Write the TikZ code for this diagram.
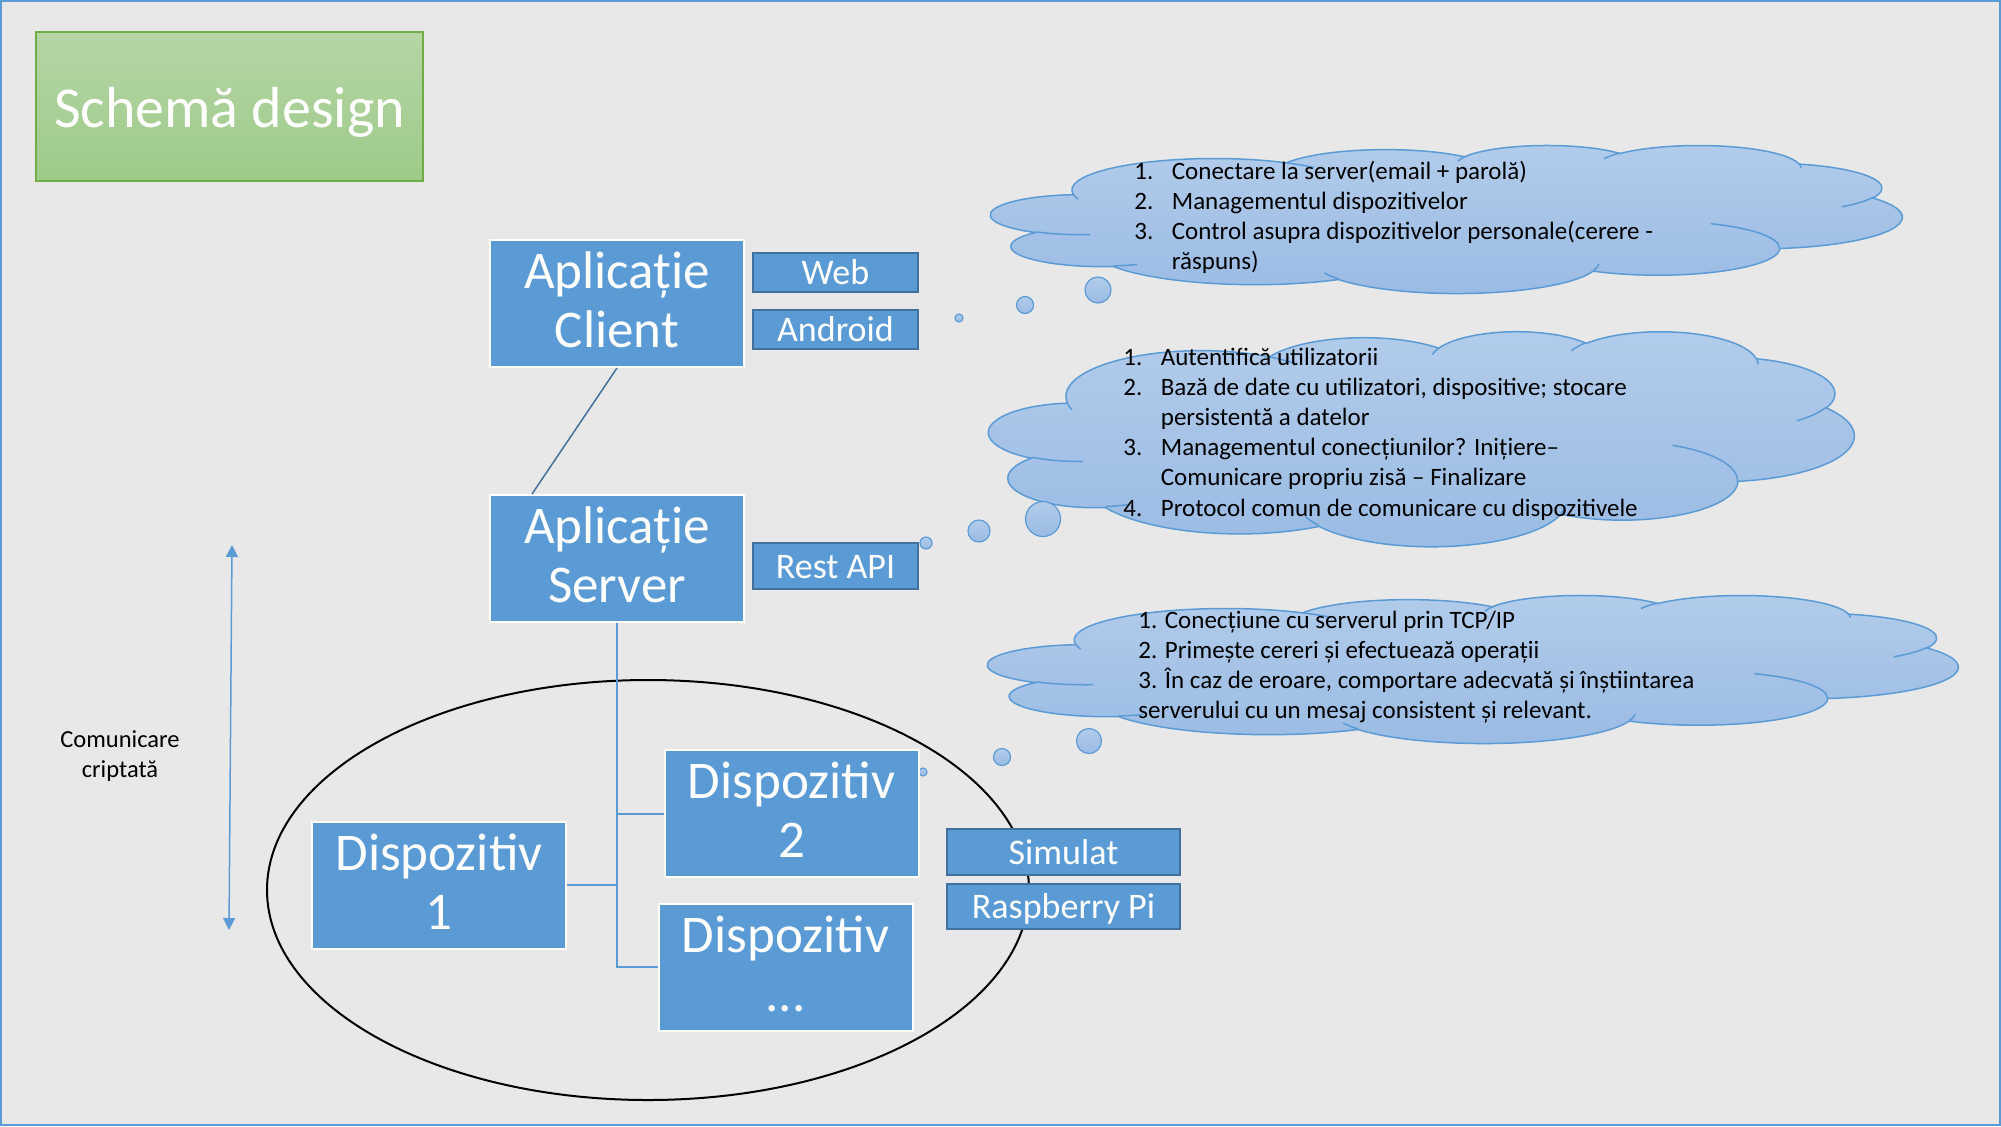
\documentclass[tikz,border=0pt]{standalone}
\usepackage{fontspec}
\setmainfont{Carlito}
\usetikzlibrary{arrows.meta}
\definecolor{bg}{HTML}{E9E8E9}
\definecolor{framec}{HTML}{5B9BD5}
\definecolor{boxfill}{HTML}{5B9BD5}
\definecolor{boxdark}{HTML}{41719C}
\definecolor{titletop}{HTML}{B5D5A5}
\definecolor{titlebot}{HTML}{9ECB89}
\definecolor{titleline}{HTML}{70AD47}
\definecolor{cloudtop}{HTML}{B2CCEB}
\definecolor{cloudbot}{HTML}{9ABBE4}
\definecolor{cloudline}{HTML}{5B9BD5}
\definecolor{treec}{HTML}{5B9BD5}

% PowerPoint-style arcTo: wR hR stAng swAng (visual angles, degrees)
\newcommand\pptarc[4]{arc[x radius=#1, y radius=#2,
  start angle={atan2((#1)*sin(#3),(#2)*cos(#3))},
  delta angle={mod(atan2((#1)*sin((#3)+(#4)),(#2)*cos((#3)+(#4)))-atan2((#1)*sin(#3),(#2)*cos(#3))+720,360)}]}

\newcommand\cloudouter{(39.00,143.70)
  \pptarc{67.53}{91.90}{-190.4875}{123.7805}
  \pptarc{53.33}{72.67}{-144.1024}{89.9452}
  \pptarc{43.65}{59.45}{-145.8079}{99.7230}
  \pptarc{48.57}{65.95}{-130.9861}{117.2417}
  \pptarc{53.33}{72.73}{-78.7089}{109.0269}
  \pptarc{67.75}{92.20}{-46.2673}{130.2690}
  \pptarc{57.85}{78.67}{0.6250}{114.0333}
  \pptarc{67.52}{92.15}{22.4516}{115.1726}
  \pptarc{77.20}{105.43}{66.2426}{75.7110}
  \pptarc{43.60}{59.18}{-274.9421}{146.7356}
  \pptarc{43.45}{59.45}{-246.8285}{152.5189} -- cycle}

\newcommand\cloudinner{
  (46.93,261.77) \pptarc{43.45}{59.45}{86.7420}{26.4295}
  (69.28,348.99) \pptarc{43.60}{59.18}{73.6105}{11.4475}
  (164.78,390.90) \pptarc{67.52}{92.15}{137.6242}{14.0811}
  (288.27,347.51) \pptarc{67.52}{92.15}{6.4533}{15.9984}
  (341.29,229.54) \pptarc{57.85}{78.67}{-70.2924}{70.9174}
  (417.98,153.54) \pptarc{53.33}{72.73}{30.3180}{27.7515}
  (383.24,54.26) \pptarc{48.57}{65.95}{-13.7443}{14.8589}
  (290.78,39.52) \pptarc{48.57}{65.95}{-149.1815}{18.1954}
  (221.41,47.20) \pptarc{43.65}{59.45}{-163.4943}{17.6864}
  (140.00,51.92) \pptarc{67.53}{91.90}{-66.7070}{12.3194}
  (41.27,157.89) \pptarc{67.53}{91.90}{157.6544}{11.8582}}

% #1,#2 = top-left (px), #3 = x unit, #4 = y unit
\newcommand\drawcloud[4]{%
  \begin{scope}[shift={(#1,#2)}, x=#3, y=#4]
    \path[top color=cloudtop, bottom color=cloudbot] \cloudouter;
    \draw[cloudline, line width=0.75pt] \cloudouter;
    \draw[cloudline, line width=0.75pt] \cloudinner;
  \end{scope}}

\tikzset{
  bigbox/.style={draw=white, line width=1pt, fill=boxfill, text=white,
    inner sep=0pt, minimum width=127pt, minimum height=63.5pt,
    font=\fontsize{26.5pt}{29.5pt}\selectfont, text height=21.5pt, text depth=36.5pt},
  smallbox/.style={draw=boxdark, line width=1pt, fill=boxfill, text=white,
    inner sep=0pt, minimum width=82.5pt, minimum height=19.5pt,
    font=\fontsize{18pt}{21pt}\selectfont, text height=13pt, text depth=1pt},
  titlebox/.style={draw=titleline, line width=0.75pt, top color=titletop, bottom color=titlebot,
    text=white, inner sep=0pt, minimum width=193.5pt, minimum height=74.5pt,
    font=\fontsize{29pt}{34pt}\selectfont, text height=22pt, text depth=1.5pt},
  cloudtext/.style={inner sep=0pt, anchor=base west, text=black,
    font=\fontsize{12.5pt}{15.1pt}\selectfont},
  plaintext/.style={inner sep=0pt, anchor=base, text=black,
    font=\fontsize{12.25pt}{15pt}\selectfont},
  treeline/.style={treec, line width=1pt},
  linkline/.style={boxdark, line width=0.75pt},
  bubble/.style={draw=cloudline, line width=0.6pt, top color=cloudtop, bottom color=cloudbot},
  dblarrow/.style={framec, line width=0.75pt,
    {Triangle[length=6pt,width=6pt]}-{Triangle[length=6pt,width=6pt]}},
}
\newcommand\numitem[1]{\makebox[18.75pt][l]{#1}}
\newcommand\numskip{\hspace*{18.75pt}}

\begin{document}
\begin{tikzpicture}[x=0.5pt, y=-0.5pt]
\useasboundingbox (0,0) rectangle (2001,1126);
\fill[bg] (0,0) rectangle (2001,1126);
\draw[framec, line width=1pt] (1,1) rectangle (2000,1125);

% title
\node[titlebox] (title) at (229.5,106.5) {Schemă design};

% clouds
\drawcloud{991}{145}{1.05440pt}{-0.171296pt}
\drawcloud{989}{331}{1.001157pt}{-0.248843pt}
\drawcloud{988}{595}{1.122685pt}{-0.171296pt}

% thought bubbles
\draw[bubble] (959,318) circle [radius=4];
\draw[bubble] (1025,305) circle [radius=8.5];
\draw[bubble] (1098,290) circle [radius=13];
\draw[bubble] (926,543) circle [radius=6];
\draw[bubble] (979,531) circle [radius=11];
\draw[bubble] (1043,519) circle [radius=17.5];
\draw[bubble] (923,772) circle [radius=4];
\draw[bubble] (1002,757) circle [radius=8.5];
\draw[bubble] (1089,741) circle [radius=12.5];

% cloud texts
\node[cloudtext] (c1text) at (1134,179) {\begin{tabular}[t]{@{}l@{}}
\numitem{1.}Conectare la server(email + parolă)\\
\numitem{2.}Managementul dispozitivelor\\
\numitem{3.}Control asupra dispozitivelor personale(cerere -\\
\numskip răspuns)\end{tabular}};
\node[cloudtext] (c2text) at (1123,365) {\begin{tabular}[t]{@{}l@{}}
\numitem{1.}Autentifică utilizatorii\\
\numitem{2.}Bază de date cu utilizatori, dispositive; stocare\\
\numskip persistentă a datelor\\
\numitem{3.}Managementul conecțiunilor? Inițiere–\\
\numskip Comunicare propriu zisă – Finalizare\\
\numitem{4.}Protocol comun de comunicare cu dispozitivele\end{tabular}};
\node[cloudtext] (c3text) at (1138,628) {\begin{tabular}[t]{@{}l@{}}
1. Conecțiune cu serverul prin TCP/IP\\
2. Primește cereri și efectuează operații\\
3. În caz de eroare, comportare adecvată și înștiintarea\\
serverului cu un mesaj consistent și relevant.\end{tabular}};

% device group ellipse
\draw[black, line width=1pt] (648,890) ellipse [x radius=381, y radius=210];

% boxes
\node[bigbox] (client) at (617,303.5) {\begin{tabular}[t]{@{}c@{}}Aplicație\\Client\end{tabular}};
\node[bigbox] (server) at (617,558.5) {\begin{tabular}[t]{@{}c@{}}Aplicație\\Server\end{tabular}};
\node[bigbox] (dev2) at (791.5,813.5) {\begin{tabular}[t]{@{}c@{}}Dispozitiv\\2\end{tabular}};
\node[bigbox] (dev1) at (439,885) {\begin{tabular}[t]{@{}c@{}}Dispozitiv\\1\end{tabular}};
\node[bigbox] (devn) at (785.5,967) {\begin{tabular}[t]{@{}c@{}}Dispozitiv\\...\end{tabular}};

\node[smallbox] (web) at (835.5,272.5) {Web};
\node[smallbox] (android) at (835.5,329.5) {Android};
\node[smallbox, minimum height=23pt] (rest) at (835.5,566) {Rest API};
\node[smallbox, minimum width=116.5pt, minimum height=23pt] (sim) at (1063.5,852) {Simulat};
\node[smallbox, minimum width=116.5pt, minimum height=22.5pt] (rpi) at (1063.5,906.5) {Raspberry Pi};

% connectors
\draw[linkline] (client.south) -- ([xshift=21.5pt]server.north west);
\draw[treeline] (server.south) |- (devn.west);
\draw[treeline] (dev2.west) -- (dev2.west -| server.south);
\draw[treeline] (dev1.east) -- (dev1.east -| server.south);

% encrypted communication arrow
\coordinate (arrtop) at (232,545);
\coordinate (arrbot) at (229,930);
\draw[dblarrow] (arrtop) -- (arrbot);
\node[plaintext] (comm) at (120,747) {\begin{tabular}[t]{@{}c@{}}Comunicare\\criptată\end{tabular}};
\end{tikzpicture}
\end{document}
